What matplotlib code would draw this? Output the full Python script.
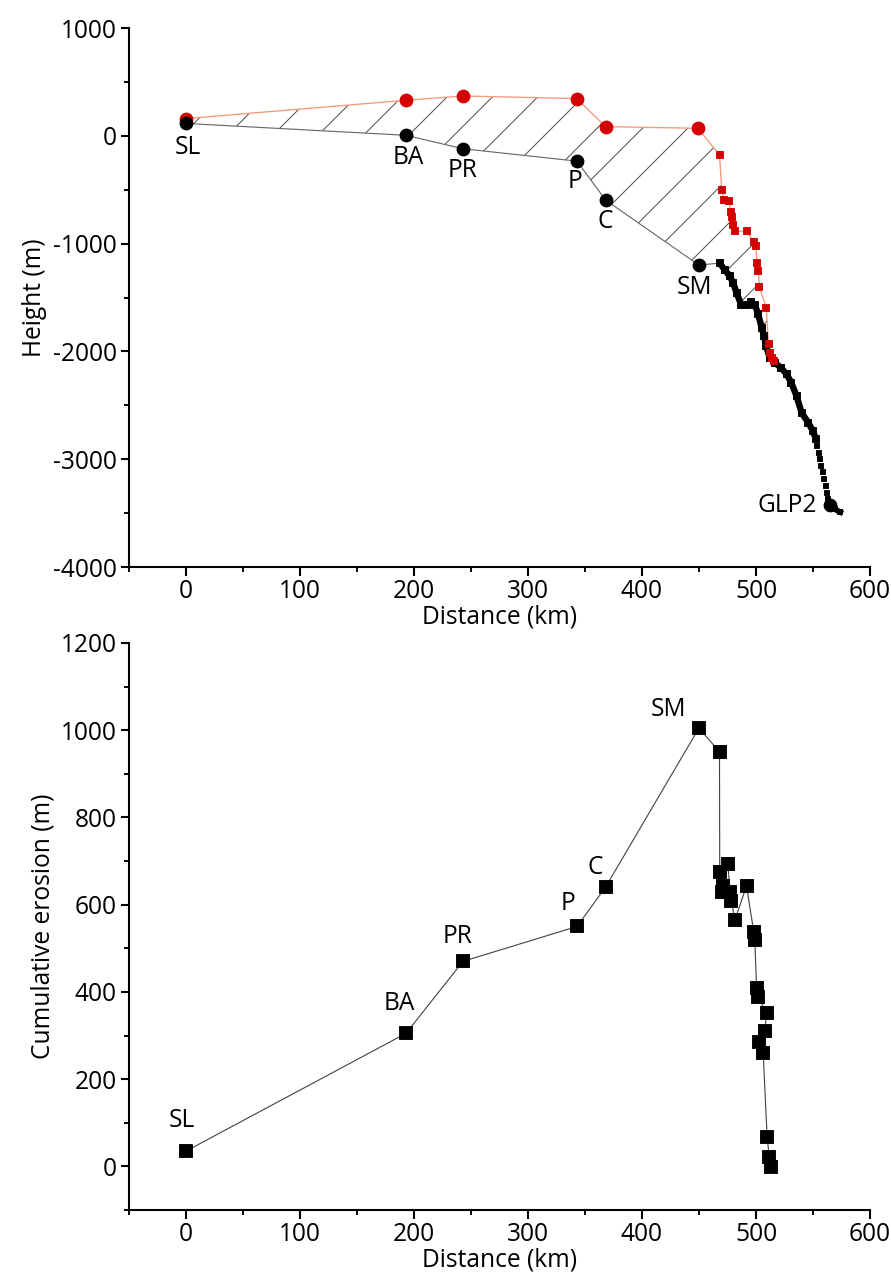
import matplotlib
matplotlib.use("Agg")
import matplotlib.pyplot as plt
from matplotlib.patches import Polygon
from matplotlib.ticker import MultipleLocator
import numpy as np

# ---------------- data: top panel (height profile) ----------------
stations = ["SL", "BA", "PR", "P", "C", "SM"]
station_x = [0, 193, 243, 343, 368, 450]
station_h = [115, 5, -120, -235, -595, -1200]          # present-day (black circles)
paleo_x = [0, 193, 243, 343, 368, 449]
paleo_h = [160, 330, 370, 345, 85, 70]                 # reconstructed surface (red circles)

red_sq_x = [468, 470, 472, 476, 478, 479, 480, 482, 492, 498, 500, 501, 502, 503,
            509, 511, 512, 514, 516]
red_sq_h = [-176, -506, -593, -602, -704, -756, -824, -886, -886, -988, -1025, -1179,
            -1250, -1401, -1596, -1935, -2012, -2058, -2090]

prof_x = [468, 472.5, 477, 480, 483, 487, 492, 496, 499, 502, 505, 507, 509, 512,
          516.6, 522, 527, 531, 535.6, 540, 545.8, 550, 552.6]
prof_h = [-1180, -1241, -1302, -1364, -1457, -1565, -1565, -1543, -1565, -1657, -1781,
          -1858, -1951, -2058, -2105, -2151, -2213, -2290, -2414, -2568, -2660, -2738, -2815]
sparse_x = [553.8, 555.2, 556.1, 557, 558.4, 559.6, 561.1, 562, 563.4]
sparse_h = [-2877, -2938, -3000, -3062, -3123, -3185, -3247, -3309, -3370]
tail_x = [565, 569, 574]
tail_h = [-3420, -3463, -3490]
glp2_x, glp2_h = 565, -3420
n_hatch_prof = 15   # profile points bounding the hatched area

# ---------------- data: bottom panel (cumulative erosion) ----------------
ero_labels = ["SL", "BA", "PR", "P", "C", "SM"]
ero_x = [0, 193, 243, 343, 368, 450, 468, 468.2, 470.6, 471.1, 475.5, 477, 478.5,
         481.4, 491.7, 498.1, 499, 500.5, 501.9, 509.3, 507.8, 502.8, 506.3, 509.8,
         511.6, 513]
ero_y = [35, 305, 470, 550, 640, 1005, 950, 675, 628, 643, 693, 628, 609,
         564, 643, 537, 518, 409, 388, 352, 310, 285, 260, 67,
         22, -2]

# ---------------- figure ----------------
DPI = 136
fig = plt.figure(figsize=(891 / DPI, 1280 / DPI), dpi=DPI)
plt.rcParams["font.family"] = ["Open Sans", "DejaVu Sans"]
plt.rcParams["hatch.linewidth"] = 0.55
plt.rcParams["axes.unicode_minus"] = False
FS = 13

def style_axes(ax):
    for s in ["top", "right"]:
        ax.spines[s].set_visible(False)
    for s in ["left", "bottom"]:
        ax.spines[s].set_linewidth(1.1)
    ax.tick_params(which="major", direction="out", length=4.5, width=1.1, labelsize=FS,
                   pad=2)
    ax.tick_params(which="minor", direction="out", length=2.8, width=1.0)
    ax.xaxis.set_major_locator(MultipleLocator(100))
    ax.xaxis.set_minor_locator(MultipleLocator(50))
    ax.set_xlim(-50, 600)
    ax.set_xlabel("Distance (km)", fontsize=FS, labelpad=0)

# ---- top panel ----
ax1 = fig.add_axes([0.1448, 0.557, 0.8316, 0.4211])
style_axes(ax1)
ax1.set_ylim(-4000, 1000)
ax1.yaxis.set_major_locator(MultipleLocator(1000))
ax1.yaxis.set_minor_locator(MultipleLocator(500))
ax1.set_ylabel("Height (m)", fontsize=FS, labelpad=3)

upper = list(zip(paleo_x, paleo_h)) + list(zip(red_sq_x, red_sq_h))
lower = list(zip(station_x, station_h)) + list(zip(prof_x[:n_hatch_prof], prof_h[:n_hatch_prof]))
poly = Polygon(np.array(upper + lower[::-1]), closed=True, fill=False,
               hatch="/", edgecolor="#555555", linewidth=0, zorder=1)
ax1.add_patch(poly)

# present-day line
ax1.plot(station_x + [prof_x[0]], station_h + [prof_h[0]], color="#666666", lw=0.6, zorder=2)
# paleo surface line
ax1.plot(paleo_x + red_sq_x, paleo_h + red_sq_h, color="#f39a7a", lw=0.7, zorder=2)
ax1.plot(red_sq_x, red_sq_h, "s", color="#d40000", ms=3.2, zorder=4)
ax1.plot(paleo_x, paleo_h, "o", color="#d40000", ms=6.3, zorder=4)
ax1.plot(station_x, station_h, "o", color="black", ms=6.3, zorder=5)
# bathymetric profile
ax1.plot(prof_x, prof_h, "-", color="black", lw=3.4, zorder=3,
         marker="s", ms=3.0, solid_capstyle="butt")
ax1.plot(sparse_x, sparse_h, "s", color="black", ms=2.4, zorder=3)
ax1.plot(tail_x, tail_h, "-", color="black", lw=3.0, zorder=3, marker="s", ms=2.6)
ax1.plot([glp2_x], [glp2_h], "o", color="black", ms=6.3, zorder=5)

label_off = {"SL": (1, -13), "BA": (1, -11.5), "PR": (0, -11.5), "P": (-1, -11),
             "C": (0, -11.5), "SM": (-2.6, -12)}
for name, x, h in zip(stations, station_x, station_h):
    dx, dy = label_off[name]
    ax1.annotate(name, (x, h), xytext=(dx, dy), textcoords="offset points",
                 ha="center", va="center", fontsize=FS)
ax1.annotate("GLP2", (glp2_x, glp2_h), xytext=(-7, -0.5), textcoords="offset points",
             ha="right", va="center", fontsize=FS)

# ---- bottom panel ----
ax2 = fig.add_axes([0.1448, 0.0547, 0.8316, 0.443])
style_axes(ax2)
ax2.set_ylim(-100, 1200)
ax2.yaxis.set_major_locator(MultipleLocator(200))
ax2.yaxis.set_minor_locator(MultipleLocator(100))
ax2.set_ylabel("Cumulative erosion (m)", fontsize=FS, labelpad=3)

ax2.plot(ero_x, ero_y, "-", color="#444444", lw=0.6, zorder=2)
ax2.plot(ero_x, ero_y, "s", color="black", ms=6.8, zorder=3)
blabel_off = {"SL": (-2, 16), "BA": (-3.5, 16), "PR": (-3, 13), "P": (-5, 12),
              "C": (-5.5, 10.5), "SM": (-16, 10)}
for name, x, y in zip(ero_labels, ero_x, ero_y):
    dx, dy = blabel_off[name]
    ax2.annotate(name, (x, y), xytext=(dx, dy), textcoords="offset points",
                 ha="center", va="center", fontsize=FS)

fig.savefig("out.png", dpi=DPI)
